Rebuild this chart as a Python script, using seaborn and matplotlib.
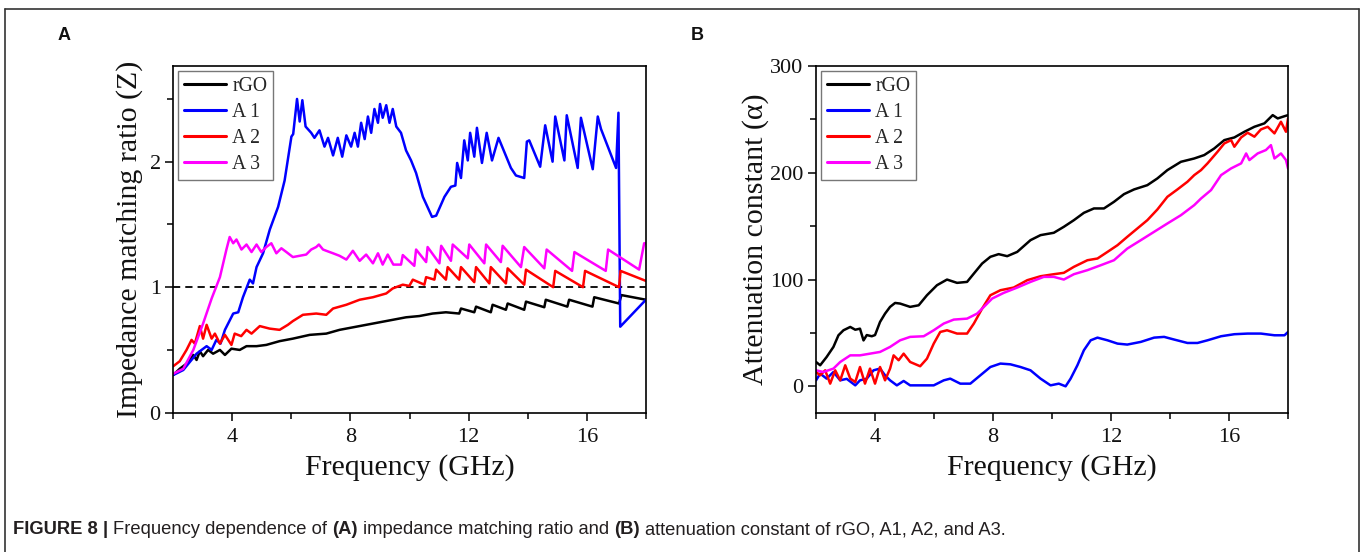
import numpy as np
import pandas as pd
import matplotlib
matplotlib.use("Agg")
import matplotlib.pyplot as plt
from matplotlib.lines import Line2D
from matplotlib.ticker import MultipleLocator
import seaborn as sns

# ---------------- Panel A: impedance matching ratio Z ----------------
za_rgo_f = [2.0, 2.22, 2.45, 2.68, 2.79, 2.90, 3.01, 3.18, 3.35, 3.58, 3.75, 3.97, 4.25, 4.48,
            4.82, 5.15, 5.60, 6.05, 6.62, 7.18, 7.63, 8.08, 8.53, 8.98, 9.43, 9.88, 10.33, 10.78,
            11.23, 11.68, 11.74, 12.19, 12.25, 12.75, 12.81, 13.26, 13.32, 13.88, 13.94, 14.56,
            14.61, 15.34, 15.40, 16.19, 16.25, 17.09, 17.17, 18.0]
za_rgo_z = [0.30, 0.35, 0.39, 0.46, 0.42, 0.49, 0.45, 0.50, 0.47, 0.50, 0.46, 0.51, 0.50, 0.53,
            0.53, 0.54, 0.57, 0.59, 0.62, 0.63, 0.66, 0.68, 0.70, 0.72, 0.74, 0.76, 0.77, 0.79,
            0.80, 0.79, 0.83, 0.80, 0.845, 0.80, 0.86, 0.82, 0.87, 0.82, 0.885, 0.84,
            0.90, 0.845, 0.90, 0.845, 0.92, 0.87, 0.937, 0.90]

za_a1_f = [2.0, 2.34, 2.79, 3.13, 3.30, 3.46, 3.60, 3.75, 4.03, 4.20, 4.36, 4.59, 4.70, 4.82,
           5.04, 5.27, 5.55, 5.77, 6.00, 6.06, 6.19, 6.28, 6.37, 6.48, 6.67, 6.78, 6.95, 7.12,
           7.24, 7.41, 7.57, 7.72, 7.86, 8.02, 8.14, 8.25, 8.36, 8.48, 8.59, 8.70, 8.81, 8.93,
           9.00, 9.09, 9.21, 9.32, 9.43, 9.55, 9.71, 9.88, 10.05, 10.22, 10.45, 10.76, 10.90,
           11.18, 11.40, 11.55, 11.61, 11.74, 11.85, 11.97, 12.05, 12.19, 12.28, 12.45, 12.61,
           12.79, 13.01, 13.43, 13.60, 13.88, 13.97, 14.05, 14.42, 14.59, 14.84, 14.93, 15.24,
           15.32, 15.69, 15.80, 16.20, 16.37, 16.48, 16.99, 17.07, 17.13, 18.0]
za_a1_z = [0.30, 0.34, 0.47, 0.53, 0.50, 0.58, 0.55, 0.66, 0.79, 0.80, 0.92, 1.06, 1.03, 1.16,
           1.27, 1.46, 1.64, 1.85, 2.20, 2.22, 2.50, 2.32, 2.49, 2.28, 2.23, 2.19, 2.25, 2.12,
           2.19, 2.05, 2.19, 2.04, 2.21, 2.12, 2.23, 2.12, 2.31, 2.18, 2.36, 2.23, 2.42, 2.31,
           2.46, 2.35, 2.45, 2.31, 2.42, 2.28, 2.23, 2.09, 2.01, 1.91, 1.72, 1.56, 1.57,
           1.72, 1.80, 1.81, 1.99, 1.87, 2.17, 2.01, 2.23, 2.04, 2.27, 1.99, 2.23,
           2.01, 2.19, 1.95, 1.89, 1.87, 2.16, 2.17, 1.96, 2.29, 2.00, 2.36, 2.01,
           2.37, 1.95, 2.35, 1.94, 2.36, 2.26, 1.95, 2.39, 0.685, 0.90]

za_a2_f = [2.0, 2.22, 2.45, 2.62, 2.73, 2.90, 3.01, 3.13, 3.30, 3.41, 3.58, 3.75, 3.97, 4.08,
           4.30, 4.48, 4.65, 4.93, 5.26, 5.60, 5.88, 6.05, 6.39, 6.84, 7.18, 7.41, 7.86, 8.31,
           8.76, 9.21, 9.43, 9.77, 9.99, 10.11, 10.50, 10.56, 10.84, 10.90, 11.23, 11.29, 11.68,
           11.74, 12.19, 12.25, 12.70, 12.75, 13.26, 13.32, 13.88, 13.94, 14.86, 14.93, 15.87,
           15.94, 17.09, 17.14, 18.0]
za_a2_z = [0.37, 0.41, 0.50, 0.58, 0.55, 0.69, 0.59, 0.70, 0.59, 0.63, 0.55, 0.62, 0.54, 0.63,
           0.61, 0.66, 0.63, 0.69, 0.67, 0.66, 0.70, 0.73, 0.78, 0.79, 0.78, 0.83, 0.86, 0.90,
           0.92, 0.95, 0.99, 1.02, 1.01, 1.06, 1.02, 1.08, 1.06, 1.14, 1.06, 1.16, 1.06,
           1.16, 1.04, 1.16, 1.03, 1.16, 1.03, 1.15, 1.02, 1.14, 1.00, 1.13, 1.00,
           1.13, 1.00, 1.13, 1.05]

za_a3_f = [2.0, 2.34, 2.68, 3.01, 3.30, 3.58, 3.80, 3.91, 4.03, 4.14, 4.31, 4.48, 4.65, 4.82,
           4.98, 5.15, 5.32, 5.49, 5.66, 5.83, 6.05, 6.50, 6.67, 6.84, 6.93, 7.07, 7.18, 7.41,
           7.63, 7.86, 8.08, 8.31, 8.53, 8.76, 8.93, 9.09, 9.26, 9.45, 9.71, 9.77, 10.16, 10.22,
           10.56, 10.61, 11.01, 11.07, 11.40, 11.46, 11.97, 12.02, 12.53, 12.59, 13.09, 13.15,
           13.77, 13.88, 14.56, 14.64, 15.50, 15.58, 16.64, 16.72, 17.77, 17.94, 18.0]
za_a3_z = [0.31, 0.35, 0.50, 0.71, 0.91, 1.08, 1.30, 1.40, 1.35, 1.38, 1.30, 1.34, 1.28, 1.34,
           1.28, 1.32, 1.35, 1.27, 1.31, 1.28, 1.24, 1.26, 1.30, 1.32, 1.34, 1.30, 1.29, 1.27,
           1.25, 1.22, 1.29, 1.21, 1.26, 1.19, 1.27, 1.18, 1.26, 1.18, 1.18, 1.256, 1.17, 1.30,
           1.20, 1.32, 1.19, 1.33, 1.21, 1.34, 1.23, 1.34, 1.19, 1.34, 1.20, 1.33,
           1.16, 1.32, 1.15, 1.30, 1.13, 1.28, 1.13, 1.30, 1.14, 1.35, 1.35]

# ---------------- Panel B: attenuation constant alpha ----------------
ab_rgo_f = [2.0, 2.14, 2.36, 2.59, 2.76, 2.93, 3.16, 3.33, 3.49, 3.61, 3.72, 3.89, 4.0, 4.17,
            4.34, 4.51, 4.68, 4.85, 5.19, 5.48, 5.76, 6.10, 6.44, 6.78, 7.12, 7.35, 7.63, 7.91,
            8.19, 8.48, 8.82, 9.27, 9.61, 10.06, 10.40, 10.74, 11.08, 11.42, 11.76, 12.10, 12.44,
            12.78, 13.23, 13.57, 13.91, 14.37, 14.82, 15.16, 15.50, 15.84, 16.18, 16.52, 16.86,
            17.20, 17.48, 17.65, 17.88, 18.0]
ab_rgo_a = [22.8, 19.7, 27.5, 36.9, 47.8, 52.5, 55.6, 53.0, 54.0, 43.0, 48.0, 46.9, 48.0, 60.3,
            68.1, 74.4, 78.1, 77.5, 74.4, 75.9, 85.3, 94.7, 100.0, 96.9, 97.8, 105.6, 115.0, 121.3,
            123.8, 121.9, 125.9, 136.9, 141.6, 143.8, 149.4, 155.6, 162.5, 166.6, 166.6, 172.8, 180.0,
            184.4, 188.4, 194.7, 202.5, 210.3, 213.4, 216.6, 222.8, 230.6, 233.1, 238.4, 243.1,
            246.3, 254.0, 250.9, 253.0, 254.0]

ab_a1_f = [2.0, 2.14, 2.36, 2.59, 2.82, 3.04, 3.33, 3.49, 3.72, 3.95, 4.17, 4.34, 4.51, 4.74,
           4.97, 5.19, 5.53, 5.99, 6.33, 6.55, 6.89, 7.23, 7.57, 7.91, 8.25, 8.59, 8.93, 9.27,
           9.61, 9.95, 10.23, 10.46, 10.63, 10.86, 11.08, 11.31, 11.54, 11.88, 12.22, 12.55,
           13.01, 13.46, 13.80, 14.14, 14.59, 14.93, 15.27, 15.73, 16.18, 16.63, 17.08, 17.54,
           17.88, 18.0]
ab_a1_a = [5.6, 11.9, 7.2, 13.4, 5.6, 7.0, 0.9, 5.6, 7.2, 15.0, 16.6, 10.3, 5.6, 0.9,
           5.0, 0.9, 0.9, 0.9, 5.6, 7.2, 2.5, 2.5, 10.3, 18.1, 21.3, 20.6, 18.1, 15.0,
           7.2, 0.9, 2.5, 0.0, 7.2, 19.7, 33.8, 43.1, 45.6, 43.1, 40.0, 39.1,
           41.6, 45.6, 46.3, 43.8, 40.6, 40.6, 43.1, 46.9, 48.8, 49.4, 49.4, 47.8,
           47.8, 50.9]

ab_a2_f = [2.0, 2.14, 2.31, 2.48, 2.65, 2.82, 2.99, 3.16, 3.33, 3.49, 3.66, 3.83, 4.0, 4.17,
           4.34, 4.51, 4.63, 4.80, 4.97, 5.19, 5.53, 5.76, 5.99, 6.21, 6.44, 6.78, 7.12, 7.35,
           7.63, 7.91, 8.25, 8.70, 9.16, 9.61, 10.06, 10.40, 10.74, 11.20, 11.54, 11.88, 12.22,
           12.55, 12.89, 13.23, 13.57, 13.91, 14.25, 14.59, 14.82, 15.05, 15.27, 15.61, 15.84,
           16.07, 16.18, 16.41, 16.63, 16.86, 17.08, 17.31, 17.54, 17.76, 17.93, 18.0]
ab_a2_a = [13.4, 10.3, 15.0, 2.5, 15.0, 5.6, 19.7, 7.2, 4.0, 18.1, 2.5, 16.6, 2.5, 18.1,
           5.6, 16.6, 29.0, 24.4, 30.6, 22.8, 18.8, 25.9, 40.0, 50.9, 52.5, 49.4, 49.4, 58.8,
           72.8, 85.3, 90.0, 92.5, 99.4, 103.1, 105.0, 106.3, 111.9, 118.1, 119.7, 125.9, 132.2,
           140.0, 147.8, 155.6, 165.6, 177.5, 184.4, 191.6, 197.8, 202.5, 208.8, 219.7, 227.5,
           230.6, 224.4, 233.1, 237.5, 233.8, 240.6, 243.1, 236.9, 247.8, 238.4, 250.9]

ab_a3_f = [2.0, 2.25, 2.59, 2.82, 3.16, 3.49, 3.83, 4.17, 4.51, 4.85, 5.19, 5.65, 5.99, 6.33,
           6.67, 7.12, 7.46, 7.69, 7.97, 8.36, 8.82, 9.27, 9.72, 10.06, 10.40, 10.74, 11.20,
           11.65, 12.10, 12.55, 13.01, 13.46, 13.91, 14.37, 14.82, 15.05, 15.39, 15.73, 16.07,
           16.41, 16.58, 16.69, 16.97, 17.25, 17.42, 17.54, 17.76, 17.93, 18.0]
ab_a3_a = [15.0, 13.4, 16.6, 22.8, 29.0, 29.0, 30.6, 32.2, 36.9, 43.1, 46.3, 46.9, 52.5, 58.8,
           62.5, 63.4, 68.1, 74.4, 82.2, 87.5, 92.5, 97.8, 102.5, 102.5, 100.0, 105.0, 108.8,
           113.4, 118.1, 129.0, 136.9, 144.7, 152.5, 160.3, 169.7, 175.9, 183.8, 197.8, 204.1,
           208.8, 218.1, 211.9, 218.1, 221.3, 225.9, 213.4, 218.1, 211.9, 204.0]

labels = ["rGO", "A 1", "A 2", "A 3"]
colors = ["#000000", "#0000ff", "#ff0000", "#ff00ff"]

panel_a = [(za_rgo_f, za_rgo_z), (za_a1_f, za_a1_z), (za_a2_f, za_a2_z), (za_a3_f, za_a3_z)]
panel_b = [(ab_rgo_f, ab_rgo_a), (ab_a1_f, ab_a1_a), (ab_a2_f, ab_a2_a), (ab_a3_f, ab_a3_a)]

sns.set_theme(style="ticks")
plt.rcParams["font.family"] = ["Liberation Serif", "DejaVu Serif"]
plt.rcParams["axes.unicode_minus"] = False

fig = plt.figure(figsize=(13.63, 5.52), dpi=100)
axA = fig.add_axes([0.1271, 0.2524, 0.3468, 0.6286])
axB = fig.add_axes([0.5987, 0.2518, 0.3463, 0.6286])


def draw_panel(ax, series, ylabel, ylim, ymajor, labelpad):
    for (f, v), lab, col in zip(series, labels, colors):
        df = pd.DataFrame({"freq": f, "val": v})
        sns.lineplot(data=df, x="freq", y="val", ax=ax, color=col, lw=1.8,
                     label=lab, sort=False, estimator=None)
    ax.set_xlim(2, 18)
    ax.set_ylim(*ylim)
    ax.xaxis.set_major_locator(MultipleLocator(4))
    ax.xaxis.set_minor_locator(MultipleLocator(2))
    ax.yaxis.set_major_locator(MultipleLocator(ymajor))
    ax.yaxis.set_minor_locator(MultipleLocator(ymajor / 2))
    for s in ax.spines.values():
        s.set_linewidth(1.2)
        s.set_color("black")
        s.set_visible(True)
    ax.tick_params(which="both", direction="out", top=False, right=False,
                   color="black", width=1.1, labelsize=16, labelcolor="#111111", pad=3)
    ax.tick_params(axis="x", which="major", pad=5)
    ax.tick_params(which="major", length=6)
    ax.tick_params(which="minor", length=4)
    ax.set_xlabel("Frequency (GHz)", fontsize=21.5, color="#111111", labelpad=5)
    ax.set_ylabel(ylabel, fontsize=21.5, color="#111111", labelpad=labelpad)
    ax.grid(False)
    leg = ax.legend(loc="upper left", fontsize=14.2, frameon=True, fancybox=False,
                    edgecolor="#555555", handlelength=2.15, handletextpad=0.3,
                    labelspacing=0.36, borderpad=0.3, borderaxespad=0.25)
    leg.get_frame().set_linewidth(1.0)
    for line in leg.get_lines():
        line.set_linewidth(2.2)


draw_panel(axA, panel_a, "Impedance matching ratio (Z)", (0, 2.765), 1, 5)
axA.axhline(1.0, color="black", lw=1.3, ls=(0, (4, 2.8)), zorder=1)
draw_panel(axB, panel_b, "Attenuation constant (\u03b1)", (-25, 300), 100, 1)

# Panel letters
fig.text(64 / 1363, 1 - 35 / 552, "A", ha="center", va="center", fontsize=13,
         fontweight="bold", family="Liberation Sans", color="#111111")
fig.text(697 / 1363, 1 - 35 / 552, "B", ha="center", va="center", fontsize=13,
         fontweight="bold", family="Liberation Sans", color="#111111")

# Caption with bold segments
fig.canvas.draw()
renderer = fig.canvas.get_renderer()
cap_size = 13.2
cap_color = "#231f20"
parts = [("FIGURE 8 |", "bold"), ("Frequency dependence of", "normal"), ("(A)", "bold"),
         ("impedance matching ratio and", "normal"), ("(B)", "bold"),
         ("attenuation constant of rGO, A1, A2, and A3.", "normal")]


def text_width(s, weight):
    t = fig.text(0, 0, s, fontsize=cap_size, fontweight=weight, family="Liberation Sans")
    w = t.get_window_extent(renderer).width
    t.remove()
    return w


space_w = text_width("a a", "normal") - text_width("aa", "normal")
x_px = 13.0
y_frac = 1 - 530 / 552
for txt, wt in parts:
    t = fig.text(x_px / 1363, y_frac, txt, fontsize=cap_size, fontweight=wt,
                 family="Liberation Sans", color=cap_color, va="center", ha="left")
    x_px += t.get_window_extent(renderer).width + space_w

# Figure frame (left, top, right edges)
frame_kw = dict(color="#333333", lw=1.2, transform=fig.transFigure)
x0, x1, ytop = 4.5 / 1363, 1358.5 / 1363, 1 - 8.5 / 552
fig.add_artist(Line2D([x0, x0], [0, ytop], **frame_kw))
fig.add_artist(Line2D([x0, x1], [ytop, ytop], **frame_kw))
fig.add_artist(Line2D([x1, x1], [0, ytop], **frame_kw))

fig.savefig("out.png", dpi=100)
